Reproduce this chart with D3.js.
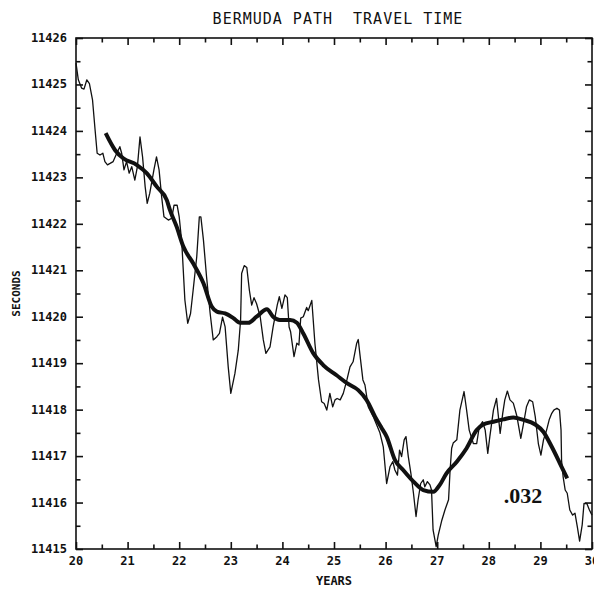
<!DOCTYPE html>
<html>
  <head>
    <meta charset="utf-8">
    <title>Bermuda Path Travel Time</title>
    <style>
      body { margin: 0; background: #fff; }
      text { font-family: "DejaVu Sans Mono", "Liberation Mono", monospace; fill: #111; }
      .tick-label { font-size: 12px; font-weight: bold; }
      .domain-box { fill: none; stroke: #111; stroke-width: 1.6; }
    </style>
  </head>
  <body>
    <div id="chart"></div>
    <script src="https://cdn.jsdelivr.net/npm/d3@7/dist/d3.min.js"></script>
    <script>
      (function(d3) {
        'use strict';

        // raw (thin) series: years and seconds
        var rawYears = [20.00, 20.045, 20.11, 20.155, 20.21, 20.26, 20.32, 20.37, 20.41, 20.465,
          20.52, 20.56, 20.61, 20.66, 20.72, 20.79, 20.85, 20.885, 20.93, 20.98,
          21.03, 21.08, 21.14, 21.19, 21.24, 21.29, 21.34, 21.38, 21.43, 21.51,
          21.56, 21.61, 21.66, 21.705, 21.79, 21.855, 21.90, 21.96, 22.00, 22.05,
          22.11, 22.165, 22.22, 22.27, 22.34, 22.39, 22.42, 22.47, 22.53, 22.60,
          22.66, 22.73, 22.78, 22.84, 22.89, 22.95, 23.00, 23.08, 23.145, 23.19,
          23.21, 23.26, 23.31, 23.36, 23.405, 23.45, 23.50, 23.57, 23.63, 23.68,
          23.76, 23.82, 23.90, 23.94, 23.99, 24.05, 24.095, 24.13, 24.16, 24.225,
          24.28, 24.32, 24.355, 24.405, 24.47, 24.50, 24.57, 24.63, 24.70, 24.76,
          24.81, 24.86, 24.92, 24.975, 25.02, 25.06, 25.12, 25.18, 25.25, 25.31,
          25.37, 25.44, 25.47, 25.50, 25.56, 25.60, 25.665, 25.76, 25.89, 25.955,
          26.02, 26.085, 26.14, 26.18, 26.23, 26.27, 26.31, 26.36, 26.395, 26.44,
          26.49, 26.54, 26.59, 26.63, 26.68, 26.73, 26.76, 26.81, 26.86, 26.89,
          26.92, 26.98, 27.02, 27.09, 27.15, 27.22, 27.25, 27.28, 27.31, 27.38,
          27.44, 27.52, 27.57, 27.62, 27.70, 27.765, 27.815, 27.88, 27.93, 27.98,
          28.02, 28.09, 28.15, 28.22, 28.27, 28.31, 28.36, 28.41, 28.475, 28.54,
          28.62, 28.68, 28.73, 28.785, 28.85, 28.90, 28.96, 29.01, 29.06, 29.12,
          29.17, 29.22, 29.26, 29.32, 29.37, 29.40, 29.41, 29.44, 29.48, 29.52,
          29.57, 29.625, 29.67, 29.715, 29.76, 29.81, 29.845, 29.90, 29.95, 30.00];
        var rawSeconds = [11425.46, 11425.10, 11424.92, 11424.90, 11425.10, 11425.02, 11424.67, 11424.02, 11423.52, 11423.48,
          11423.52, 11423.34, 11423.27, 11423.30, 11423.34, 11423.52, 11423.66, 11423.52, 11423.16, 11423.34,
          11423.09, 11423.23, 11422.94, 11423.23, 11423.87, 11423.44, 11422.80, 11422.44, 11422.66, 11423.16,
          11423.44, 11423.16, 11422.58, 11422.15, 11422.08, 11422.12, 11422.40, 11422.40, 11422.15, 11421.60,
          11420.36, 11419.86, 11420.07, 11420.57, 11421.29, 11422.15, 11422.15, 11421.65, 11420.86, 11420.07,
          11419.50, 11419.57, 11419.64, 11419.99, 11419.78, 11418.92, 11418.35, 11418.78, 11419.28, 11419.93,
          11420.93, 11421.10, 11421.06, 11420.57, 11420.25, 11420.41, 11420.28, 11420.00, 11419.50, 11419.21,
          11419.35, 11419.78, 11420.25, 11420.43, 11420.18, 11420.47, 11420.41, 11419.78, 11419.67, 11419.14,
          11419.43, 11419.39, 11419.97, 11420.00, 11420.20, 11420.13, 11420.35, 11419.43, 11418.64, 11418.17,
          11418.13, 11417.99, 11418.35, 11418.06, 11418.21, 11418.24, 11418.21, 11418.35, 11418.64, 11418.92,
          11419.03, 11419.43, 11419.51, 11419.21, 11418.64, 11418.53, 11418.06, 11417.85, 11417.50, 11417.20,
          11416.41, 11416.77, 11416.88, 11416.70, 11416.59, 11417.13, 11416.99, 11417.35, 11417.42, 11416.99,
          11416.63, 11416.20, 11415.70, 11416.06, 11416.41, 11416.49, 11416.34, 11416.45, 11416.38, 11416.27,
          11415.41, 11415.05, 11415.30, 11415.62, 11415.84, 11416.06, 11416.70, 11417.17, 11417.28, 11417.35,
          11417.99, 11418.39, 11417.99, 11417.56, 11417.27, 11417.27, 11417.63, 11417.74, 11417.56, 11417.06,
          11417.42, 11417.99, 11418.24, 11417.49, 11417.92, 11418.21, 11418.40, 11418.21, 11418.14, 11417.88,
          11417.38, 11417.74, 11418.06, 11418.21, 11418.17, 11417.85, 11417.27, 11417.02, 11417.35, 11417.56,
          11417.78, 11417.92, 11417.99, 11418.03, 11417.99, 11417.56, 11416.91, 11416.56, 11416.27, 11416.20,
          11415.84, 11415.73, 11415.77, 11415.48, 11415.17, 11415.52, 11415.98, 11415.98, 11415.84, 11415.73];

        // smoothed (thick) series
        var smoothYears = [20.575, 20.755, 20.915, 21.175, 21.37, 21.565, 21.76, 21.82, 21.95, 22.08,
          22.27, 22.47, 22.63, 22.73, 22.89, 23.05, 23.18, 23.34, 23.50, 23.70,
          23.82, 23.95, 24.15, 24.28, 24.405, 24.60, 24.79, 25.05, 25.25, 25.47,
          25.63, 25.795, 25.925, 26.02, 26.18, 26.34, 26.54, 26.73, 26.925, 27.05,
          27.18, 27.38, 27.57, 27.765, 27.89, 28.09, 28.28, 28.475, 28.67, 28.90,
          29.06, 29.22, 29.38, 29.52];
        var smoothSeconds = [11423.95, 11423.59, 11423.41, 11423.27, 11423.09, 11422.80, 11422.51, 11422.30, 11421.94, 11421.51,
          11421.15, 11420.72, 11420.22, 11420.11, 11420.07, 11419.97, 11419.87, 11419.87, 11420.00, 11420.16,
          11420.00, 11419.93, 11419.93, 11419.87, 11419.64, 11419.21, 11418.96, 11418.74, 11418.57, 11418.42,
          11418.21, 11417.85, 11417.60, 11417.42, 11416.92, 11416.70, 11416.45, 11416.27, 11416.23, 11416.38,
          11416.63, 11416.88, 11417.17, 11417.56, 11417.68, 11417.74, 11417.79, 11417.83, 11417.78, 11417.68,
          11417.52, 11417.20, 11416.84, 11416.52];

        var yearTicks = [20, 21, 22, 23, 24, 25, 26, 27, 28, 29, 30];
        var secondTicks = [11415, 11416, 11417, 11418, 11419, 11420, 11421, 11422, 11423, 11424, 11425, 11426];
        var title = 'BERMUDA PATH  TRAVEL TIME';
        var xTitle = 'YEARS';
        var yTitle = 'SECONDS';
        var note = '.032';
        var notePos = [28.29, 11415.99];

        var width = 594, height = 592;
        var margin = { top: 38, right: 2, bottom: 43, left: 76 };
        var innerW = width - margin.left - margin.right;
        var innerH = height - margin.top - margin.bottom;

        var x = d3.scaleLinear().domain([20, 30]).range([0, innerW]);
        var y = d3.scaleLinear().domain([11415, 11426]).range([innerH, 0]);

        var svg = d3.select('#chart').append('svg')
          .attr('width', width)
          .attr('height', height);

        var g = svg.append('g')
          .attr('transform', 'translate(' + margin.left + ',' + margin.top + ')');

        var halfYears = d3.range(20.5, 30, 1);
        var halfSeconds = d3.range(11415.5, 11426, 1);
        var major = 7, minor = 4.5;

        function tickAxis(axisFn, scale, values, size, tx, ty) {
          var a = g.append('g')
            .attr('transform', 'translate(' + tx + ',' + ty + ')')
            .call(axisFn(scale).tickValues(values).tickSize(-size).tickFormat(''));
          a.select('.domain').remove();
          a.selectAll('line').attr('stroke', '#111').attr('stroke-width', 1.6);
          return a;
        }

        tickAxis(d3.axisBottom, x, yearTicks, major, 0, innerH);
        tickAxis(d3.axisBottom, x, halfYears, minor, 0, innerH);
        tickAxis(d3.axisTop, x, yearTicks, major, 0, 0);
        tickAxis(d3.axisTop, x, halfYears, minor, 0, 0);
        tickAxis(d3.axisLeft, y, secondTicks, major, 0, 0);
        tickAxis(d3.axisLeft, y, halfSeconds, minor, 0, 0);
        tickAxis(d3.axisRight, y, secondTicks, major, innerW, 0);
        tickAxis(d3.axisRight, y, halfSeconds, minor, innerW, 0);

        g.append('rect')
          .attr('class', 'domain-box')
          .attr('width', innerW)
          .attr('height', innerH);

        // tick labels
        g.selectAll('.xlab')
          .data(yearTicks)
          .enter().append('text')
          .attr('class', 'tick-label')
          .attr('x', function(d) { return x(d); })
          .attr('y', innerH + 16)
          .attr('text-anchor', 'middle')
          .text(function(d) { return d; });

        g.selectAll('.ylab')
          .data(secondTicks)
          .enter().append('text')
          .attr('class', 'tick-label')
          .attr('x', -9)
          .attr('y', function(d) { return y(d) + 4; })
          .attr('text-anchor', 'end')
          .text(function(d) { return d; });

        var line = d3.line()
          .x(function(d) { return x(d[0]); })
          .y(function(d) { return y(d[1]); });

        var rawData = d3.zip(rawYears, rawSeconds);
        var smoothData = d3.zip(smoothYears, smoothSeconds);

        g.append('path')
          .datum(rawData)
          .attr('fill', 'none')
          .attr('stroke', '#111')
          .attr('stroke-width', 1.3)
          .attr('stroke-linejoin', 'round')
          .attr('d', line);

        g.append('path')
          .datum(smoothData)
          .attr('fill', 'none')
          .attr('stroke', '#111')
          .attr('stroke-width', 4)
          .attr('stroke-linejoin', 'round')
          .attr('d', line.curve(d3.curveMonotoneX));

        g.append('text')
          .attr('x', x(notePos[0]))
          .attr('y', y(notePos[1]))
          .style('font-family', '"Liberation Serif", "DejaVu Serif", serif')
          .style('font-weight', 'bold')
          .style('font-size', '22px')
          .text(note);

        svg.append('text')
          .attr('x', 338)
          .attr('y', 24)
          .attr('text-anchor', 'middle')
          .style('font-size', '15px')
          .style('letter-spacing', '1px')
          .style('white-space', 'pre')
          .text(title);

        svg.append('text')
          .attr('x', margin.left + innerW / 2)
          .attr('y', 585)
          .attr('text-anchor', 'middle')
          .style('font-size', '12px')
          .style('font-weight', 'bold')
          .text(xTitle);

        svg.append('text')
          .attr('transform', 'translate(20,' + (margin.top + innerH / 2) + ') rotate(-90)')
          .attr('text-anchor', 'middle')
          .style('font-size', '11px')
          .style('font-weight', 'bold')
          .text(yTitle);

      })(window.d3);
    </script>
  </body>
</html>
